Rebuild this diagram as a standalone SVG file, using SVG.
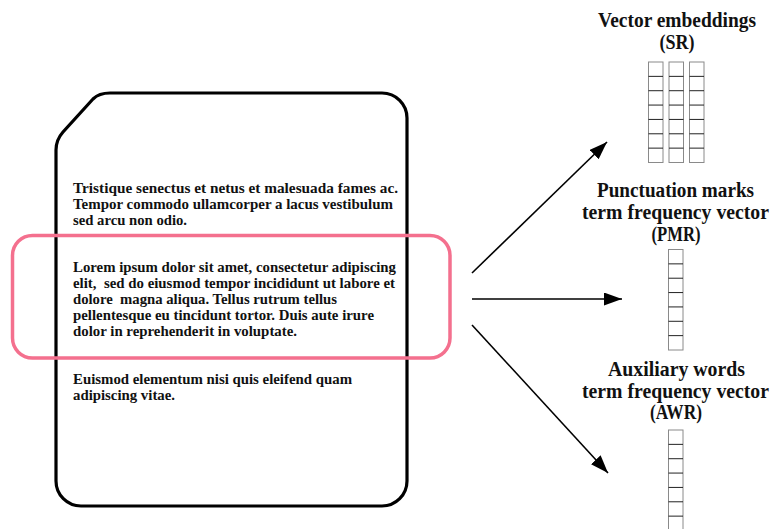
<svg xmlns="http://www.w3.org/2000/svg" width="771" height="529" viewBox="0 0 771 529">
<style>
.body{font-family:"Liberation Serif","Times New Roman",serif;font-weight:bold;font-size:15px;fill:#111;white-space:pre}
.title{font-family:"Liberation Serif","Times New Roman",serif;font-weight:bold;font-size:20px;fill:#111;text-anchor:middle}
.doc{fill:#fff;stroke:#000;stroke-width:3.2;stroke-linejoin:round}
.hl{fill:none;stroke:#F4708E;stroke-width:3.5}
.cellbox{fill:#fff;stroke:#8a8a8a;stroke-width:1}
.cellline{stroke:#222;stroke-width:1}
.arrow{stroke:#000;stroke-width:1.6;fill:none;marker-end:url(#ah)}
</style>
<defs>
<marker id="ah" markerUnits="userSpaceOnUse" markerWidth="19" markerHeight="14" refX="18" refY="6.5" orient="auto">
<path d="M0,0 L18,6.5 L0,13 Z" fill="#000"/>
</marker>
<g id="cells7">
<rect class="cellbox" x="0" y="0" width="14.5" height="100.5"/>
<line class="cellline" x1="0" y1="14.36" x2="14.5" y2="14.36"/>
<line class="cellline" x1="0" y1="28.71" x2="14.5" y2="28.71"/>
<line class="cellline" x1="0" y1="43.07" x2="14.5" y2="43.07"/>
<line class="cellline" x1="0" y1="57.43" x2="14.5" y2="57.43"/>
<line class="cellline" x1="0" y1="71.79" x2="14.5" y2="71.79"/>
<line class="cellline" x1="0" y1="86.14" x2="14.5" y2="86.14"/>
</g>
</defs>
<rect width="771" height="529" fill="#fff"/>

<g id="document">
<path class="doc" d="M56 160 L56 150 Q56 140 63 132 L93 99 Q99 93 110 93 L382 93 A25 25 0 0 1 407 118 L407 481 A25 25 0 0 1 382 506 L81 506 A25 25 0 0 1 56 481 Z"/>
<text class="body" x="73" y="193" textLength="325" lengthAdjust="spacingAndGlyphs">Tristique senectus et netus et malesuada fames ac.</text>
<text class="body" x="73" y="209" textLength="320" lengthAdjust="spacingAndGlyphs">Tempor commodo ullamcorper a lacus vestibulum</text>
<text class="body" x="73" y="225" textLength="114" lengthAdjust="spacingAndGlyphs">sed arcu non odio.</text>
<text class="body" x="73" y="272" textLength="323" lengthAdjust="spacingAndGlyphs">Lorem ipsum dolor sit amet, consectetur adipiscing</text>
<text class="body" x="73" y="288" textLength="322" lengthAdjust="spacingAndGlyphs">elit,  sed do eiusmod tempor incididunt ut labore et</text>
<text class="body" x="73" y="304" textLength="264" lengthAdjust="spacingAndGlyphs">dolore  magna aliqua. Tellus rutrum tellus</text>
<text class="body" x="73" y="320" textLength="301" lengthAdjust="spacingAndGlyphs">pellentesque eu tincidunt tortor. Duis aute irure</text>
<text class="body" x="73" y="336" textLength="224" lengthAdjust="spacingAndGlyphs">dolor in reprehenderit in voluptate.</text>
<text class="body" x="73" y="384" textLength="279" lengthAdjust="spacingAndGlyphs">Euismod elementum nisi quis eleifend quam</text>
<text class="body" x="73" y="400" textLength="102" lengthAdjust="spacingAndGlyphs">adipiscing vitae.</text>
</g>

<g id="highlight">
<rect class="hl" x="12.5" y="235.5" width="437.5" height="122.5" rx="20" ry="20"/>
</g>

<g id="connectors">
<line class="arrow" x1="472" y1="273" x2="607" y2="142"/>
<line class="arrow" x1="472" y1="299" x2="622" y2="299"/>
<line class="arrow" x1="472" y1="325" x2="608" y2="473"/>
</g>

<g id="sr">
<text class="title" x="677" y="27" textLength="158" lengthAdjust="spacingAndGlyphs">Vector embeddings</text>
<text class="title" x="677" y="49" textLength="35" lengthAdjust="spacingAndGlyphs">(SR)</text>
<use href="#cells7" x="648.5" y="62"/>
<use href="#cells7" x="669" y="62"/>
<use href="#cells7" x="689.5" y="62"/>
</g>

<g id="pmr">
<text class="title" x="675.5" y="197" textLength="157" lengthAdjust="spacingAndGlyphs">Punctuation marks</text>
<text class="title" x="675.5" y="219" textLength="187" lengthAdjust="spacingAndGlyphs">term frequency vector</text>
<text class="title" x="676" y="241" textLength="49" lengthAdjust="spacingAndGlyphs">(PMR)</text>
<use href="#cells7" x="668.5" y="249.5"/>
</g>

<g id="awr">
<text class="title" x="676.5" y="376" textLength="137" lengthAdjust="spacingAndGlyphs">Auxiliary words</text>
<text class="title" x="675.5" y="398" textLength="187" lengthAdjust="spacingAndGlyphs">term frequency vector</text>
<text class="title" x="676" y="419" textLength="52" lengthAdjust="spacingAndGlyphs">(AWR)</text>
<use href="#cells7" x="668.5" y="430"/>
</g>
</svg>
